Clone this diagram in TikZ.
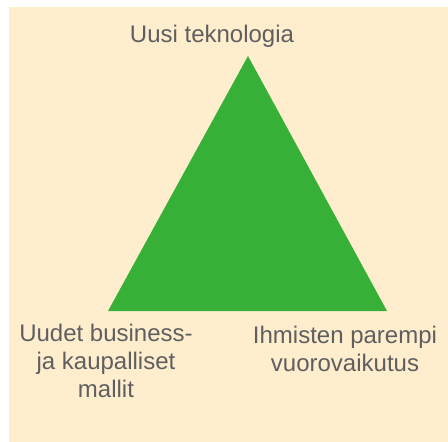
\documentclass[tikz,border=0pt]{standalone}
\usepackage{fontspec}
\setmainfont{Liberation Sans}
\definecolor{bgcream}{RGB}{255,238,206}
\definecolor{trigreen}{RGB}{55,176,55}
\definecolor{txtgray}{RGB}{95,95,95}
\begin{document}
\begin{tikzpicture}[x=1pt,y=-1pt,
  lbl/.style={text=txtgray,font=\fontsize{24}{28}\selectfont,align=center,inner sep=0pt,anchor=base}]
\useasboundingbox (0,0) rectangle (448,442);
\fill[bgcream] (9,7) rectangle (448,442);
\coordinate (apex) at (248,56);
\coordinate (bl) at (108,311);
\coordinate (br) at (387,311);
\fill[trigreen] (apex) -- (bl) -- (br) -- cycle;
\node[lbl] (top) at (212,42) {Uusi teknologia};
\node[lbl] (left) at (106,397) {Uudet business-\\ja kaupalliset\\mallit};
\node[lbl] (right) at (345,371) {Ihmisten parempi\\vuorovaikutus};
\end{tikzpicture}
\end{document}
